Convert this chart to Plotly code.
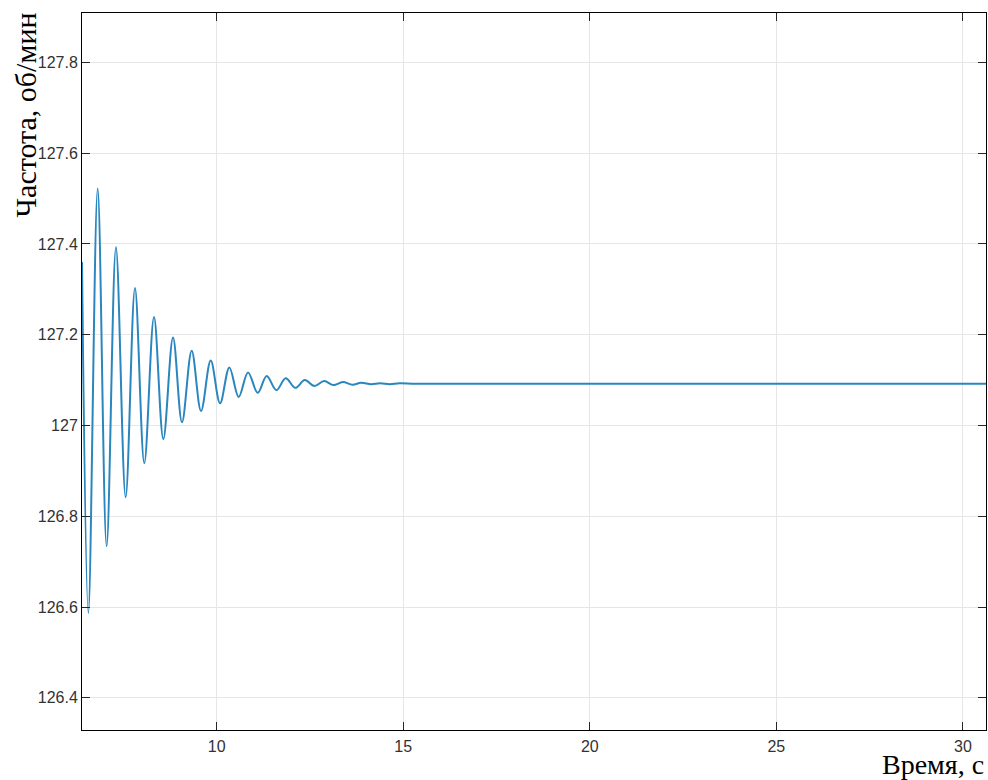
import plotly.graph_objects as go

# Extrema of the damped oscillation (time, s ; frequency, rpm)
time_s = [6.39, 6.56, 6.81, 7.05, 7.30, 7.56, 7.81, 8.06, 8.32, 8.57, 8.83,
          9.07, 9.33, 9.58, 9.84, 10.09, 10.34, 10.59, 10.84, 11.10, 11.34,
          11.60, 11.85, 12.11, 12.36, 12.62, 12.88, 13.13, 13.38, 13.64, 13.87,
          14.14, 14.38, 14.64, 14.90, 15.30, 16.0, 18.0, 20.0, 22.0, 24.0,
          26.0, 28.0, 30.0, 30.62]
freq_rpm = [127.36, 126.587, 127.522, 126.734, 127.393, 126.842, 127.303, 126.917,
            127.239, 126.970, 127.194, 127.007, 127.165, 127.032, 127.143, 127.049,
            127.128, 127.063, 127.117, 127.072, 127.109, 127.078, 127.104, 127.083,
            127.100, 127.087, 127.098, 127.089, 127.096, 127.090, 127.094, 127.091,
            127.093, 127.091, 127.093, 127.092, 127.092, 127.092, 127.092, 127.092,
            127.092, 127.092, 127.092, 127.092, 127.092]

x_ticks = [10, 15, 20, 25, 30]
x_labels = ["10", "15", "20", "25", "30"]
y_ticks = [126.4, 126.6, 126.8, 127.0, 127.2, 127.4, 127.6, 127.8]
y_labels = ["126.4", "126.6", "126.8", "127", "127.2", "127.4", "127.6", "127.8"]

fig = go.Figure()
fig.add_trace(go.Scatter(
    x=time_s, y=freq_rpm, mode="lines",
    line=dict(color="#2a86be", width=2, shape="spline", smoothing=1.0),
    showlegend=False, hoverinfo="x+y"))

axis_common = dict(
    showline=True, linecolor="#000000", linewidth=1, mirror="ticks",
    ticks="inside", ticklen=8, tickcolor="#262626", tickwidth=1,
    showgrid=True, gridcolor="#e6e6e6", gridwidth=1, zeroline=False,
    tickfont=dict(family="Liberation Sans, Arial, sans-serif", size=16, color="#333333"),
)

fig.update_xaxes(range=[6.39, 30.62], tickvals=x_ticks, ticktext=x_labels,
                 ticklabelstandoff=2, **axis_common)
fig.update_yaxes(range=[126.329, 127.909], tickvals=y_ticks, ticktext=y_labels,
                 ticklabelstandoff=0, **axis_common)

fig.update_layout(
    width=988, height=780,
    margin=dict(l=82, r=2, t=13, b=50),
    paper_bgcolor="white", plot_bgcolor="white",
    annotations=[
        dict(text="Частота, об/мин", xref="paper", yref="paper",
             x=-0.063, y=1.003, xanchor="center", yanchor="top", textangle=-90,
             showarrow=False,
             font=dict(family="Liberation Serif, Times New Roman, serif", size=30, color="#000000")),
        dict(text="Время, с", xref="paper", yref="paper",
             x=1.0, y=-0.024, xanchor="right", yanchor="top",
             showarrow=False,
             font=dict(family="Liberation Serif, Times New Roman, serif", size=28, color="#000000")),
    ],
)

fig.write_html("out.html", config={"displayModeBar": False},
               post_script="document.body.style.margin='0';document.body.style.overflow='hidden';")
